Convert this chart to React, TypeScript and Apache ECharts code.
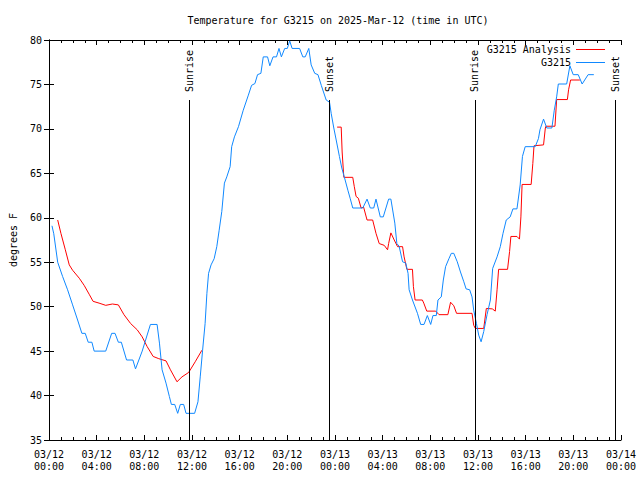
import React, { useEffect, useRef } from "react";
import * as echarts from "echarts";

// Hours since 2025-03-12 00:00 UTC
const stationHours = [
  0.25, 0.4, 0.73, 1.14, 1.56, 1.98, 2.4, 2.76, 3.04, 3.29, 3.6, 3.79, 4.76, 5.26, 5.54, 5.82, 6.07, 6.51, 7.04, 7.26,
  7.82, 8.51, 9.07, 9.27, 9.49, 9.82, 10.1, 10.27, 10.55, 10.8, 11.02, 11.3, 11.5, 12.22, 12.5, 12.69, 12.89, 13.1,
  13.25, 13.39, 13.6, 13.86, 14.08, 14.28, 14.5, 14.72, 14.92, 15.2, 15.33, 15.56, 15.9, 16.3, 16.73, 17.0, 17.28,
  17.5, 17.78, 17.98, 18.34, 18.53, 18.8, 19.09, 19.3, 19.5, 19.78, 20.0, 20.2, 20.4, 21.03, 21.3, 21.5, 21.8, 22.0,
  22.3, 22.57, 22.85, 23.26, 23.54, 23.68, 23.9, 24.1, 24.37, 24.57, 24.85, 25.08, 25.27, 25.49, 26.33, 26.69, 26.96,
  27.25, 27.44, 27.8, 28.05, 28.5, 28.69, 29.02, 29.19, 29.38, 29.67, 29.94, 30.13, 30.22, 30.5, 30.92, 31.19, 31.47,
  31.75, 32.03, 32.22, 32.5, 32.64, 32.92, 33.09, 33.28, 33.56, 33.76, 33.97, 34.26, 34.53, 34.81, 35.0, 35.3, 35.5,
  35.64, 35.87, 36.06, 36.26, 36.48, 36.76, 37.04, 37.23, 37.6, 37.87, 38.1, 38.37, 38.7, 38.93, 39.27, 39.54, 39.73,
  39.96, 40.8, 41.07, 41.2, 41.5, 41.77, 42.2, 42.4, 42.6, 42.74, 43.44, 43.71, 43.99, 44.41, 44.74, 45.24, 45.72,
];
const stationTemps = [
  59.1, 58.2, 55.0, 53.4, 51.9, 50.2, 48.5, 47.0, 47.0, 46.0, 46.0, 45.0, 45.0, 47.0, 47.0, 46.0, 46.0, 44.0, 44.0, 43.0,
  45.0, 48.0, 48.0, 45.9, 42.9, 41.4, 39.9, 39.0, 39.0, 38.0, 39.0, 39.0, 38.0, 38.0, 39.3, 42.1, 45.1, 48.1,
  51.5, 53.75, 54.7, 55.4, 56.75, 58.6, 60.7, 63.9, 64.6, 65.75, 68.0, 69.1, 70.25, 72.1, 73.8, 74.9, 75.1,
  76.1, 76.25, 78.1, 78.1, 77.1, 78.1, 78.1, 79.05, 78.1, 79.05, 79.05, 79.9, 79.05, 79.05, 78.1, 78.1, 79.05, 77.2,
  76.25, 76.1, 74.9, 73.25, 73.0, 71.75, 70.1, 68.75, 66.9, 65.6, 64.25, 63.1, 62.2, 61.1, 61.1, 62.1, 61.1,
  61.1, 62.1, 60.1, 60.1, 62.1, 62.1, 59.4, 57.1, 56.8, 55.05, 54.9, 53.75, 51.9, 50.75, 49.25, 48.0, 48.0,
  49.0, 48.0, 49.0, 49.0, 50.75, 51.1, 53.0, 54.5, 55.4, 56.0, 56.0, 55.05, 53.9, 52.8, 52.0, 51.9, 51.1,
  49.6, 48.1, 46.8, 46.05, 47.2, 49.1, 50.75, 54.3, 55.6, 56.75, 58.25, 59.75, 60.1, 61.0, 61.0, 63.7, 66.9,
  68.0, 68.0, 68.9, 69.9, 71.1, 70.1, 70.1, 72.1, 73.6, 75.05, 75.05, 77.1, 76.1, 76.1, 75.05, 76.1, 76.1,
];

const analysisHours = [
  0.73, 1.0, 1.37, 1.7, 1.98, 2.54, 2.95, 3.37, 3.7, 4.2, 4.76, 5.32, 5.82, 6.29, 6.85, 7.4, 7.82, 8.24, 8.74, 9.21,
  9.82, 10.19, 10.74, 11.16, 11.72, 12.27, 12.83, 18.5,
  24.18, 24.52, 24.6, 24.74, 25.49, 25.62, 25.77, 25.96, 26.19, 26.4, 26.69, 27.16, 27.44, 27.71, 28.13, 28.41, 28.5,
  28.69, 28.97, 29.25, 29.67, 29.8, 30.03, 30.5, 30.58, 30.72, 31.33, 31.45, 31.7, 32.45, 32.73, 33.47, 33.7, 33.97,
  34.2, 35.5, 35.64, 35.78, 36.48, 36.7, 37.2, 37.45, 37.6, 37.73, 38.48, 38.65, 38.76, 39.27, 39.48, 39.6, 39.7,
  40.46, 40.6, 40.7, 41.5, 41.65, 41.7, 42.46, 42.6, 43.5, 43.6, 43.77, 44.55,
];
const analysisTemps: (number | null)[] = [
  59.75, 58.25, 56.4, 54.7, 54.1, 53.2, 52.4, 51.4, 50.6, 50.4, 50.15, 50.3, 50.2, 49.1, 48.1, 47.4, 46.6, 45.5, 44.4,
  44.15, 43.9, 42.9, 41.55, 42.1, 42.6, 43.8, 45.1, null,
  70.2, 70.2, 67.4, 64.55, 64.55, 63.5, 62.4, 62.2, 61.1, 61.2, 59.75, 59.75, 58.25, 57.1, 56.9, 56.4, 57.1,
  58.3, 57.5, 56.75, 56.75, 55.6, 54.2, 54.2, 52.25, 50.75, 50.75, 50.4, 49.5, 49.5, 49.1, 49.1, 50.5, 50.1,
  49.25, 49.25, 47.9, 47.55, 47.55, 49.8, 49.75, 49.5, 51.9, 54.2, 54.2, 56.2, 57.9, 57.9, 57.6, 60.1, 63.75,
  63.75, 66.1, 68.1, 68.2, 70.1, 70.3, 70.3, 73.3, 73.3, 74.4, 75.5, 75.5,
];

const eventNames = ["Sunrise", "Sunset", "Sunrise", "Sunset"];
const eventHours = [11.77, 23.52, 35.73, 47.5];
const eventLineTop = 73.25;

const seriesNames = ["G3215 Analysis", "G3215"];
const seriesColors = ["#ff0000", "#0f88ff"];

const FONT = "DejaVu Sans Mono";

function fmtHour(v: number): string {
  const day = 12 + Math.floor(v / 24);
  const hh = Math.round(v % 24);
  return `03/${day}\n${String(hh).padStart(2, "0")}:00`;
}

export default function App() {
  const ref = useRef<HTMLDivElement>(null);
  useEffect(() => {
    if (!ref.current) return;
    const chart = echarts.init(ref.current, undefined, { renderer: "svg" });
    const tickCommon = {
      axisLine: { show: true, lineStyle: { color: "#000", width: 1 } },
      axisTick: { show: true, inside: true, length: 5, lineStyle: { color: "#000" } },
      splitLine: { show: false },
    };
    const markData: any[] = [];
    eventHours.forEach((h, i) => {
      markData.push([
        { coord: [h, 35], lineStyle: { color: "#000", width: 1, type: "solid" }, label: { show: false } },
        { coord: [h, eventLineTop] },
      ]);
      markData.push([
        {
          coord: [h, eventLineTop],
          lineStyle: { color: "rgba(0,0,0,0)", width: 0 },
          label: {
            show: true,
            position: "insideStart",
            distance: 8,
            formatter: eventNames[i],
            color: "#000",
            fontFamily: FONT,
            fontSize: 10,
          },
        },
        { coord: [h, 80] },
      ]);
    });

    chart.setOption({
      animation: false,
      backgroundColor: "#fff",
      textStyle: { fontFamily: FONT },
      title: {
        text: "Temperature for G3215 on 2025-Mar-12 (time in UTC)",
        left: 333,
        textAlign: "center",
        top: 9,
        textStyle: { fontFamily: FONT, fontSize: 10, fontWeight: "normal", color: "#000", lineHeight: 12 },
      },
      legend: {
        data: seriesNames,
        orient: "vertical",
        align: "right",
        icon: "rect",
        right: 30,
        top: 38,
        itemWidth: 29,
        itemHeight: 1,
        itemGap: 0,
        textStyle: { fontFamily: FONT, fontSize: 10, color: "#000", lineHeight: 8, padding: [0, 0, 5, 0] },
      },
      grid: { left: 46, right: 19, top: 40, bottom: 40, containLabel: false },
      xAxis: [
        {
          type: "value",
          min: 0,
          max: 48,
          interval: 4,
          position: "bottom",
          ...tickCommon,
          minorTick: { show: true, splitNumber: 4, length: 3, lineStyle: { color: "#000" } },
          axisLabel: {
            formatter: (v: number) => fmtHour(v),
            fontFamily: FONT,
            fontSize: 10,
            color: "#000",
            lineHeight: 12,
            margin: 8,
          },
        },
        {
          type: "value",
          min: 0,
          max: 48,
          interval: 4,
          position: "top",
          ...tickCommon,
          minorTick: { show: true, splitNumber: 4, length: 3, lineStyle: { color: "#000" } },
          axisLabel: { show: false },
        },
      ],
      yAxis: [
        {
          type: "value",
          min: 35,
          max: 80,
          interval: 5,
          position: "left",
          ...tickCommon,
          name: "degrees F",
          nameLocation: "middle",
          nameRotate: 90,
          nameGap: 31,
          nameTextStyle: { fontFamily: FONT, fontSize: 10, color: "#000" },
          axisLabel: { fontFamily: FONT, fontSize: 10, color: "#000", margin: 7 },
        },
        {
          type: "value",
          min: 35,
          max: 80,
          interval: 5,
          position: "right",
          ...tickCommon,
          axisLabel: { show: false },
        },
      ],
      series: [
        {
          name: seriesNames[0],
          type: "line",
          xAxisIndex: 0,
          yAxisIndex: 0,
          symbol: "none",
          showSymbol: false,
          connectNulls: false,
          color: seriesColors[0],
          lineStyle: { color: seriesColors[0], width: 1 },
          data: analysisHours.map((h, i) => [h, analysisTemps[i]]),
          markLine: {
            silent: true,
            symbol: ["none", "none"],
            animation: false,
            data: markData,
          },
        },
        {
          name: seriesNames[1],
          type: "line",
          xAxisIndex: 0,
          yAxisIndex: 0,
          symbol: "none",
          showSymbol: false,
          color: seriesColors[1],
          lineStyle: { color: seriesColors[1], width: 1 },
          data: stationHours.map((h, i) => [h, stationTemps[i]]),
        },
      ],
    });
    return () => chart.dispose();
  }, []);
  return (
    <div
      ref={ref}
      style={{ position: "fixed", left: 0, top: 0, width: 640, height: 480, background: "#fff" }}
    />
  );
}
